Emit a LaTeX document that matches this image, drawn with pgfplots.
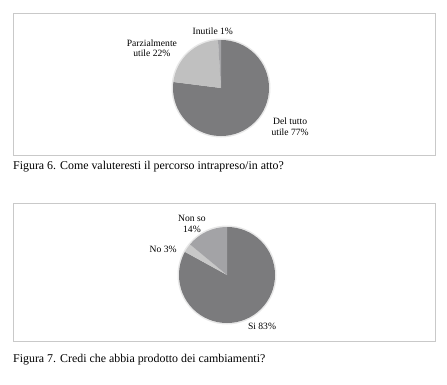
\documentclass[border=0pt]{standalone}
\usepackage{fontspec}
\setmainfont{Liberation Serif}
\usepackage{pgfplots}
\usepackage{pgfplotstable}
\pgfplotsset{compat=1.18}

\definecolor{dark}{HTML}{7B7B7D}
\definecolor{light}{HTML}{C0C0C0}
\definecolor{mid}{HTML}{A3A3A6}
\definecolor{nocol}{HTML}{C8C8C8}
\definecolor{frame}{HTML}{C9C9C9}

% Figure 6 data (percent)
\pgfplotstableread{
label value
Deltutto 77
Parzialmente 22
Inutile 1
}\tabA
% Figure 7 data (percent)
\pgfplotstableread{
label value
Si 83
No 3
Nonso 14
}\tabB

\pgfplotstablegetelem{0}{value}\of\tabA \edef\aOne{\pgfplotsretval}
\pgfplotstablegetelem{1}{value}\of\tabA \edef\aTwo{\pgfplotsretval}
\pgfplotstablegetelem{2}{value}\of\tabA \edef\aThree{\pgfplotsretval}
\pgfplotstablegetelem{0}{value}\of\tabB \edef\bOne{\pgfplotsretval}
\pgfplotstablegetelem{1}{value}\of\tabB \edef\bTwo{\pgfplotsretval}
\pgfplotstablegetelem{2}{value}\of\tabB \edef\bThree{\pgfplotsretval}

\pgfmathsetmacro\aEndOne{90-3.6*\aOne}
\pgfmathsetmacro\aEndTwo{\aEndOne-3.6*\aTwo}
\pgfmathsetmacro\bEndOne{90-3.6*\bOne}
\pgfmathsetmacro\bEndTwo{\bEndOne-3.6*\bTwo}

\def\R{48pt}
\def\lab{\fontsize{9.6}{10.5}\selectfont}
\def\cap{\fontsize{11.9}{13}\selectfont}

\begin{document}
\begin{tikzpicture}
\path[use as bounding box] (0pt,0pt) rectangle (447pt,384pt);
\draw[frame, line width=0.9pt] (13pt,229pt) rectangle (435pt,371pt);
\draw[frame, line width=0.9pt] (13pt,43pt) rectangle (435pt,181pt);
\node[anchor=base west, inner sep=0pt, font=\cap] at (13pt,215pt) {Figura 6. Come valuteresti il percorso intrapreso/in atto?};
\node[anchor=base west, inner sep=0pt, font=\cap] at (13pt,22pt) {Figura 7. Credi che abbia prodotto dei cambiamenti?};

\begin{axis}[hide axis, x=\R, y=\R, xmin=-1.6, xmax=1.6, ymin=-1.3, ymax=1.3,
  clip=false, anchor=center, at={(221pt,296pt)}]
  \fill[gray!18] (axis cs:0,0) circle[radius=49.5pt];
  \fill[dark] (axis cs:0,0) -- ++(90:\R) arc[start angle=90, end angle=\aEndOne, radius=\R] -- cycle;
  \fill[light] (axis cs:0,0) -- ++(\aEndOne:\R) arc[start angle=\aEndOne, end angle=\aEndTwo, radius=\R] -- cycle;
  \fill[mid] (axis cs:0,0) -- ++(\aEndTwo:\R) arc[start angle=\aEndTwo, end angle=-270, radius=\R] -- cycle;
  \node[font=\lab, align=center] at (axis cs:-0.17,1.19) {Inutile 1\%};
  \node[font=\lab, align=center] at (axis cs:-1.44,0.83) {Parzialmente\\utile 22\%};
  \node[font=\lab, align=center] at (axis cs:1.44,-0.81) {Del tutto\\utile 77\%};
\end{axis}

\begin{axis}[hide axis, x=\R, y=\R, xmin=-1.6, xmax=1.6, ymin=-1.3, ymax=1.3,
  clip=false, anchor=center, at={(227pt,109pt)}]
  \fill[gray!18] (axis cs:0,0) circle[radius=49.5pt];
  \fill[dark] (axis cs:0,0) -- ++(90:\R) arc[start angle=90, end angle=\bEndOne, radius=\R] -- cycle;
  \fill[nocol] (axis cs:0,0) -- ++(\bEndOne:\R) arc[start angle=\bEndOne, end angle=\bEndTwo, radius=\R] -- cycle;
  \fill[mid] (axis cs:0,0) -- ++(\bEndTwo:\R) arc[start angle=\bEndTwo, end angle=-270, radius=\R] -- cycle;
  \node[font=\lab, align=center] at (axis cs:-0.73,1.06) {Non so\\14\%};
  \node[font=\lab, align=center] at (axis cs:-1.33,0.54) {No 3\%};
  \node[font=\lab, align=center] at (axis cs:0.73,-1.06) {Si 83\%};
\end{axis}
\end{tikzpicture}
\end{document}
